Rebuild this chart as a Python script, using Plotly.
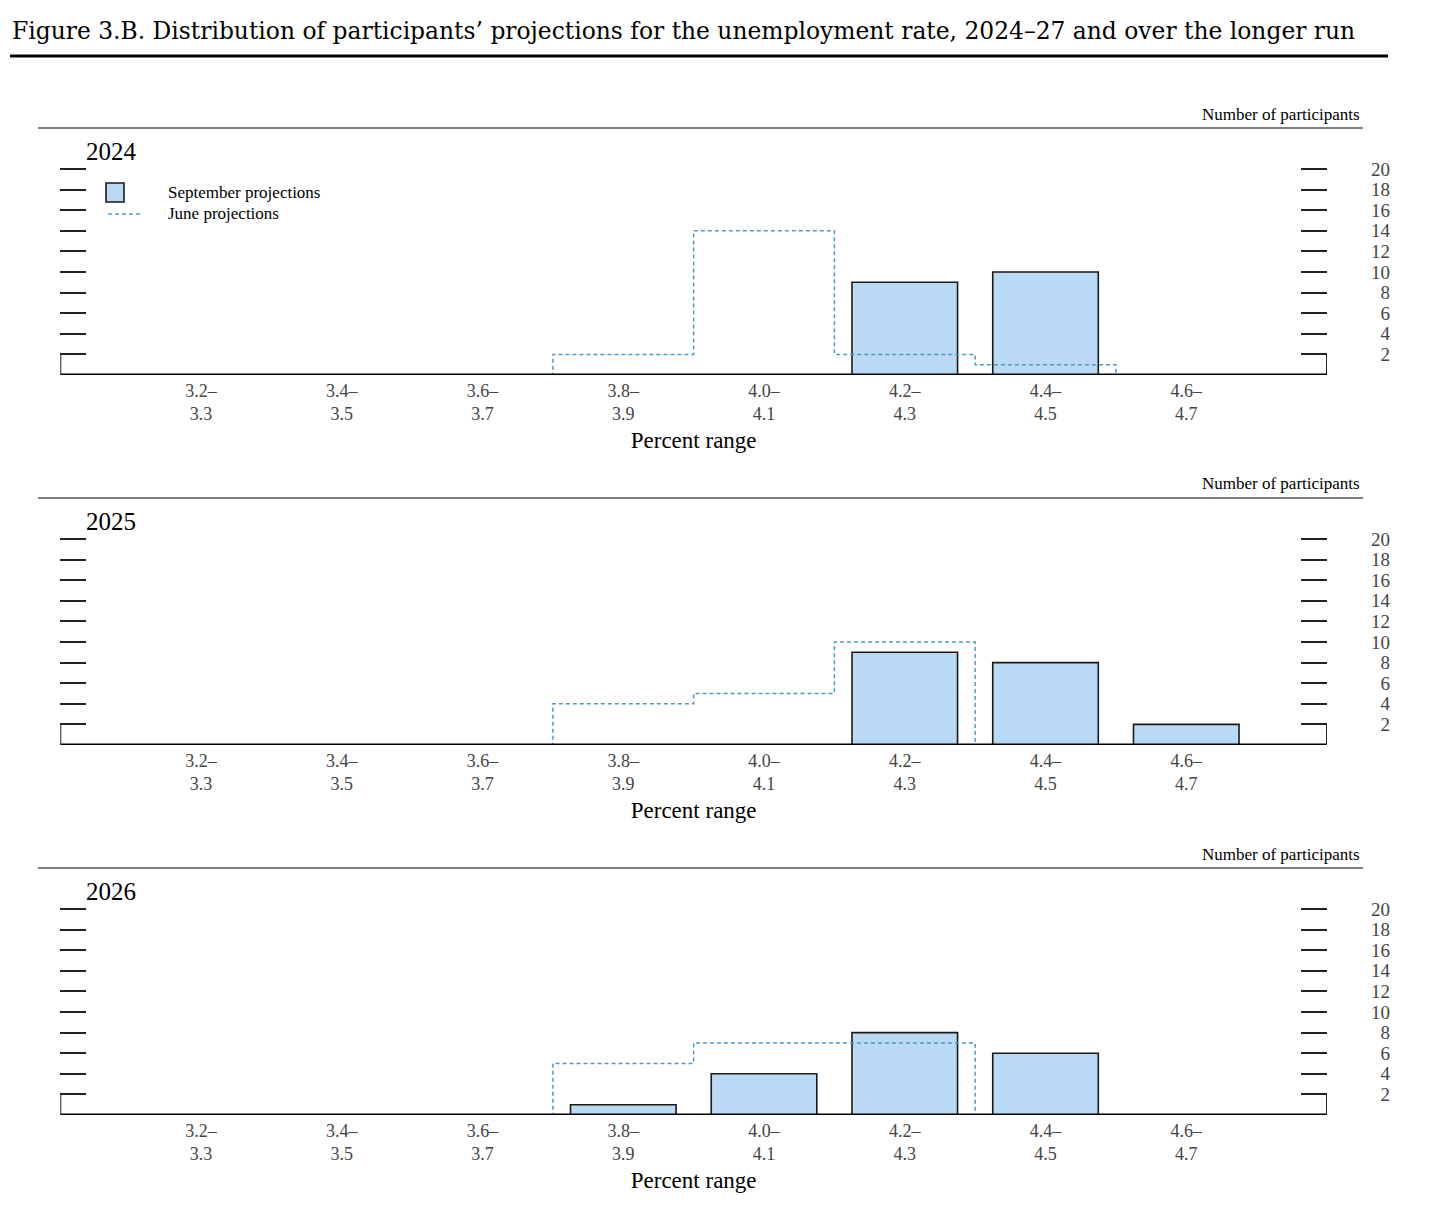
import plotly.graph_objects as go

# ---------------- data ----------------
categories = ["3.2–3.3", "3.4–3.5", "3.6–3.7", "3.8–3.9",
              "4.0–4.1", "4.2–4.3", "4.4–4.5", "4.6–4.7"]
tick_labels = ["3.2–<br>3.3", "3.4–<br>3.5", "3.6–<br>3.7", "3.8–<br>3.9",
               "4.0–<br>4.1", "4.2–<br>4.3", "4.4–<br>4.5", "4.6–<br>4.7"]
years = ["2024", "2025", "2026"]

sept_2024 = [0, 0, 0, 0, 0, 9, 10, 0]
june_2024 = [0, 0, 0, 2, 14, 2, 1, 0]
sept_2025 = [0, 0, 0, 0, 0, 9, 8, 2]
june_2025 = [0, 0, 0, 4, 5, 10, 0, 0]
sept_2026 = [0, 0, 0, 1, 4, 8, 6, 0]
june_2026 = [0, 0, 0, 5, 7, 7, 0, 0]
sept_series = [sept_2024, sept_2025, sept_2026]
june_series = [june_2024, june_2025, june_2026]

y_ticks = [2, 4, 6, 8, 10, 12, 14, 16, 18, 20]

title_text = ("Figure 3.B. Distribution of participants’ projections for the "
              "unemployment rate, 2024–27 and over the longer run")
legend_names = ["September projections", "June projections"]

# ---------------- style ----------------
W, H = 1447, 1215
OFF = 8  # page body margin
SERIF = "Liberation Serif"
TITLE_FONT = "DejaVu Serif"
BAR_FILL = "#b9d9f5"
JUNE_COLOR = "#4a9bbf"
TICK_COLOR = "#222222"
LABEL_COLOR = "#444444"
PANEL_STEP = 370
Y0_PX, Y20_PX = 375, 169
Y_TOP = 20.3
Y_TOP_LABELS = 22.0
X_LEFT_PX, X_RIGHT_PX = 60.3, 1327.0
JUNE_DASH = "4px,3px"

x_idx = list(range(len(categories)))


def py(px):
    return 1 - (px - OFF) / H


def pxx(px):
    return (px - OFF) / W


fig = go.Figure()
layout = dict(
    width=W, height=H,
    margin=dict(l=0, r=0, t=0, b=0),
    paper_bgcolor="white", plot_bgcolor="rgba(0,0,0,0)",
    font=dict(family=SERIF, color="black"),
    showlegend=False,
    barmode="overlay",
)
shapes = []
annotations = []

# title
annotations.append(dict(
    text=title_text, x=pxx(10), y=py(31), xref="paper", yref="paper",
    xanchor="left", yanchor="middle", showarrow=False,
    font=dict(family=TITLE_FONT, size=23.4, color="black"),
))
shapes.append(dict(type="line", xref="paper", yref="paper",
                   x0=pxx(10), x1=pxx(1388), y0=py(56), y1=py(56),
                   line=dict(color="black", width=3)))

for k in range(3):
    off = PANEL_STEP * k
    y0p, y20p = Y0_PX + off, Y20_PX + off
    unit = (y0p - y20p) / 20.0
    ytop_px = y0p - Y_TOP * unit
    ytop_lab_px = y0p - Y_TOP_LABELS * unit
    xa = "x" if k == 0 else f"x{k+1}"
    xa_key = "xaxis" if k == 0 else f"xaxis{k+1}"
    ym = 2 * k + 1
    ya = "y" if ym == 1 else f"y{ym}"
    ya_key = "yaxis" if ym == 1 else f"yaxis{ym}"
    yl = f"y{ym+1}"
    yl_key = f"yaxis{ym+1}"

    layout[xa_key] = dict(
        domain=[pxx(X_LEFT_PX), pxx(X_RIGHT_PX)], range=[-1, 8],
        anchor=ya, tickmode="array", tickvals=x_idx, ticktext=tick_labels,
        ticks="", showline=False, showgrid=False, zeroline=False,
        ticklabelstandoff=3,
        tickfont=dict(size=18, color=LABEL_COLOR, family=SERIF),
        title=dict(text="Percent range", font=dict(size=23, color="black", family=SERIF),
                   standoff=8),
        fixedrange=True,
    )
    layout[ya_key] = dict(
        domain=[py(y0p), py(ytop_px)], range=[0, Y_TOP],
        tickmode="array", tickvals=y_ticks,
        showgrid=False, zeroline=False, fixedrange=True,
        anchor=xa, side="left", ticks="inside", ticklen=26,
        tickwidth=1.5, tickcolor=TICK_COLOR, showticklabels=False,
        showline=False, mirror="ticks")
    # separate label axis (same px per unit, taller domain so "20" is kept)
    layout[yl_key] = dict(
        domain=[py(y0p), py(ytop_lab_px)], range=[0, Y_TOP_LABELS],
        tickmode="array", tickvals=y_ticks,
        showgrid=False, zeroline=False, fixedrange=True,
        anchor="free", side="right",
        position=pxx(1393), ticks="", showticklabels=True,
        showline=False, ticklabelposition="inside",
        tickfont=dict(size=19, color=LABEL_COLOR, family=SERIF))

    fig.add_trace(go.Bar(
        x=x_idx, y=sept_series[k], width=0.75, name=legend_names[0],
        marker=dict(color=BAR_FILL, line=dict(color="#1a1a1a", width=1.6)),
        xaxis=xa, yaxis=ya, hoverinfo="skip",
    ))
    fig.add_trace(go.Scatter(
        x=x_idx, y=june_series[k], mode="lines", line_shape="hvh",
        name=legend_names[1],
        line=dict(color=JUNE_COLOR, width=1.5, dash=JUNE_DASH),
        xaxis=xa, yaxis=ya, hoverinfo="skip",
    ))
    # empty trace so the right-hand label axis is rendered
    fig.add_trace(go.Scatter(x=[], y=[], xaxis=xa, yaxis=yl, hoverinfo="skip",
                             showlegend=False))

    # baseline and the short edge posts (0 to 2)
    shapes.append(dict(type="line", xref=xa, yref=ya, x0=-1, x1=8, y0=0, y1=0,
                       line=dict(color="black", width=3)))
    for xe in (-1, 8):
        shapes.append(dict(type="line", xref=xa, yref=ya, x0=xe, x1=xe, y0=0, y1=2,
                           line=dict(color=TICK_COLOR, width=2)))
    # panel separator
    shapes.append(dict(type="line", xref="paper", yref="paper",
                       x0=pxx(38), x1=pxx(1363), y0=py(128 + off), y1=py(128 + off),
                       line=dict(color="#555555", width=1.5)))
    annotations.append(dict(
        text="Number of participants", x=pxx(1362), y=py(114 + off),
        xref="paper", yref="paper", xanchor="right", yanchor="middle",
        showarrow=False, font=dict(size=17, family=SERIF, color="black"),
    ))
    annotations.append(dict(
        text=years[k], x=pxx(84), y=py(151 + off),
        xref="paper", yref="paper", xanchor="left", yanchor="middle",
        showarrow=False, font=dict(size=25, family=SERIF, color="black"),
    ))

# legend (first panel)
shapes.append(dict(type="rect", xref="paper", yref="paper",
                   x0=pxx(106), x1=pxx(124), y0=py(202), y1=py(183),
                   fillcolor=BAR_FILL, line=dict(color="#1a1a1a", width=1.6)))
shapes.append(dict(type="line", xref="paper", yref="paper",
                   x0=pxx(108), x1=pxx(142), y0=py(214), y1=py(214),
                   line=dict(color=JUNE_COLOR, width=1.5, dash=JUNE_DASH)))
for name, ypx in zip(legend_names, (193, 214)):
    annotations.append(dict(
        text=name, x=pxx(166), y=py(ypx), xref="paper", yref="paper",
        xanchor="left", yanchor="middle", showarrow=False,
        font=dict(size=17, family=SERIF, color="black"),
    ))

layout["shapes"] = shapes
layout["annotations"] = annotations
fig.update_layout(**layout)
fig.write_html("out.html")
